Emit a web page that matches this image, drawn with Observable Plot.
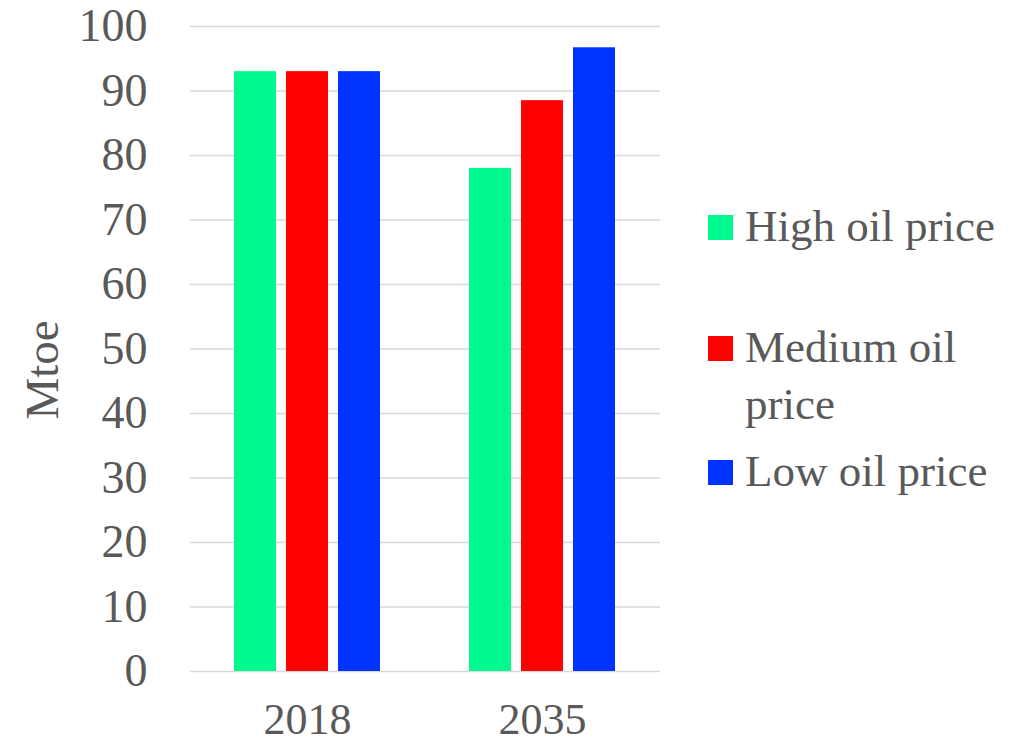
<!DOCTYPE html>
<html>
<head>
<meta charset="utf-8">
<script src="https://cdn.jsdelivr.net/npm/d3@7"></script>
<script src="https://cdn.jsdelivr.net/npm/@observablehq/plot@0.6"></script>
<style>
  html, body { margin: 0; padding: 0; background: #fff; }
  #wrap { position: relative; width: 1025px; height: 746px; font-family: "Liberation Serif", serif; color: #595959; background: #fff; }
  #wrap svg { position: absolute; left: 0; top: 0; }
  .item { position: absolute; left: 708px; width: 310px; font-size: 45px; line-height: 57px; }
  .sw { position: absolute; left: 0; top: 17px; width: 25px; height: 25px; }
  .lab { margin-left: 37px; width: 260px; }
  #ytitle { position: absolute; left: 42px; top: 370px; font-size: 47px; white-space: nowrap; transform: translate(-50%, -50%) rotate(-90deg); }
</style>
</head>
<body>
<div id="wrap"></div>
<script>
const years = ["2018", "2035"];
const series = ["High oil price", "Medium oil price", "Low oil price"];
const highVals = [93, 78];
const mediumVals = [93, 88.5];
const lowVals = [93, 96.7];
const colors = ["#00FA90", "#FF0000", "#0033FF"];
const yTicks = [0, 10, 20, 30, 40, 50, 60, 70, 80, 90, 100];
const yTitle = "Mtoe";
const legendTops = [197.6, 318.6, 442.6];

const valuesBySeries = [highVals, mediumVals, lowVals];
const data = [];
years.forEach((yr, i) => series.forEach((s, j) => data.push({year: yr, series: s, value: valuesBySeries[j][i]})));

const common = {
  width: 1025,
  height: 746,
  marginLeft: 190,
  marginRight: 365,
  marginTop: 26,
  marginBottom: 75
};

// Underlay: full-width gridlines and y axis
const under = Plot.plot({
  ...common,
  style: {fontFamily: "Liberation Serif", fontSize: "46px", color: "#595959", background: "white"},
  x: {domain: [0, 1], axis: null},
  y: {domain: [0, 100], ticks: yTicks, tickSize: 0, tickPadding: 43, label: null},
  marks: [
    Plot.ruleY(yTicks, {stroke: "#d9d9d9", strokeWidth: 1.6})
  ]
});

// Bars, faceted by year
const chart = Plot.plot({
  ...common,
  style: {fontFamily: "Liberation Serif", fontSize: "44px", color: "#595959", background: "transparent"},
  fx: {domain: years, paddingInner: 0.377, paddingOuter: 0.186, label: null, tickSize: 0, tickPadding: 31, axis: "bottom"},
  x: {domain: series, paddingInner: 0.2, paddingOuter: 0, axis: null},
  y: {domain: [0, 100], axis: null},
  color: {domain: series, range: colors},
  marks: [
    Plot.barY(data, {fx: "year", x: "series", y: "value", fill: "series"})
  ]
});

const wrap = document.getElementById("wrap");
wrap.appendChild(under);
wrap.appendChild(chart);

const yt = document.createElement("div");
yt.id = "ytitle";
yt.textContent = yTitle;
wrap.appendChild(yt);

series.forEach((s, i) => {
  const d = document.createElement("div");
  d.className = "item";
  d.style.top = legendTops[i] + "px";
  const sw = document.createElement("div");
  sw.className = "sw";
  sw.style.background = colors[i];
  const lab = document.createElement("div");
  lab.className = "lab";
  lab.textContent = s;
  d.appendChild(sw);
  d.appendChild(lab);
  wrap.appendChild(d);
});
</script>
</body>
</html>
